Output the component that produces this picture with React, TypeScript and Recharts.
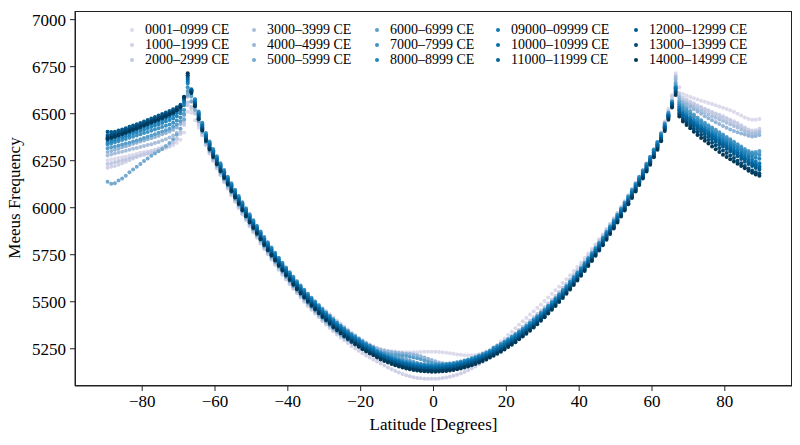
import { ScatterChart, Scatter, XAxis, YAxis } from 'recharts';

// latitude sample points (degrees), one per 1° band
const LATITUDES = [
  -89.5, -88.5, -87.5, -86.5, -85.5, -84.5, -83.5, -82.5, -81.5, -80.5, -79.5, -78.5, -77.5, -76.5, -75.5,
  -74.5, -73.5, -72.5, -71.5, -70.5, -69.5, -68.5, -67.5, -66.5, -65.5, -64.5, -63.5, -62.5, -61.5, -60.5,
  -59.5, -58.5, -57.5, -56.5, -55.5, -54.5, -53.5, -52.5, -51.5, -50.5, -49.5, -48.5, -47.5, -46.5, -45.5,
  -44.5, -43.5, -42.5, -41.5, -40.5, -39.5, -38.5, -37.5, -36.5, -35.5, -34.5, -33.5, -32.5, -31.5, -30.5,
  -29.5, -28.5, -27.5, -26.5, -25.5, -24.5, -23.5, -22.5, -21.5, -20.5, -19.5, -18.5, -17.5, -16.5, -15.5,
  -14.5, -13.5, -12.5, -11.5, -10.5, -9.5, -8.5, -7.5, -6.5, -5.5, -4.5, -3.5, -2.5, -1.5, -0.5,
  0.5, 1.5, 2.5, 3.5, 4.5, 5.5, 6.5, 7.5, 8.5, 9.5, 10.5, 11.5, 12.5, 13.5, 14.5,
  15.5, 16.5, 17.5, 18.5, 19.5, 20.5, 21.5, 22.5, 23.5, 24.5, 25.5, 26.5, 27.5, 28.5, 29.5,
  30.5, 31.5, 32.5, 33.5, 34.5, 35.5, 36.5, 37.5, 38.5, 39.5, 40.5, 41.5, 42.5, 43.5, 44.5,
  45.5, 46.5, 47.5, 48.5, 49.5, 50.5, 51.5, 52.5, 53.5, 54.5, 55.5, 56.5, 57.5, 58.5, 59.5,
  60.5, 61.5, 62.5, 63.5, 64.5, 65.5, 66.5, 67.5, 68.5, 69.5, 70.5, 71.5, 72.5, 73.5, 74.5,
  75.5, 76.5, 77.5, 78.5, 79.5, 80.5, 81.5, 82.5, 83.5, 84.5, 85.5, 86.5, 87.5, 88.5, 89.5,
];

const X_TICKS = [-80, -60, -40, -20, 0, 20, 40, 60, 80];
const Y_TICKS = [5250, 5500, 5750, 6000, 6250, 6500, 6750, 7000];

const SERIES_LABELS = [
  '0001–0999 CE', '1000–1999 CE', '2000–2999 CE',
  '3000–3999 CE', '4000–4999 CE', '5000–5999 CE',
  '6000–6999 CE', '7000–7999 CE', '8000–8999 CE',
  '09000–09999 CE', '10000–10999 CE', '11000–11999 CE',
  '12000–12999 CE', '13000–13999 CE', '14000–14999 CE',
];

const SERIES_COLORS = [
  '#dcdaeb', '#d0d1e6', '#c2c9e2', '#a9bfdc', '#93b5d7',
  '#75a9cf', '#5a9fc9', '#3f93c2', '#2786bb', '#1379b5',
  '#056fac', '#04649d', '#045a8d', '#034a77', '#023858',
];

// Meeus frequency per latitude, one array per millennium
const S01 = [
  6253, 6257, 6260, 6264, 6268, 6272, 6277, 6282, 6287, 6292, 6296, 6299, 6302, 6304, 6307, 6311, 6316, 6324, 6332, 6345, 6362, 6400,
  6510,
  6505, 6465, 6425, 6385, 6340, 6298, 6260, 6221, 6184, 6148, 6113, 6078, 6044, 6010, 5977, 5945, 5913, 5882, 5854, 5826,
  5798, 5772, 5746, 5722, 5698, 5675, 5652, 5630, 5609, 5588, 5569, 5551, 5533, 5516, 5500, 5484, 5467, 5451, 5434, 5417,
  5400, 5384, 5369, 5353, 5337, 5323, 5309, 5296, 5284, 5273, 5264,
  5256, 5249, 5244, 5240, 5237, 5235, 5233, 5232, 5231, 5231, 5231, 5232, 5233, 5234, 5234, 5234,
  5234, 5233, 5231, 5229, 5226, 5223, 5220, 5218, 5216, 5215, 5215, 5217, 5221, 5227, 5235, 5245,
  5258, 5272, 5288, 5305, 5323, 5341, 5359, 5378, 5396, 5414, 5432, 5450, 5468, 5486, 5504, 5523, 5542, 5561, 5580, 5600,
  5620, 5641, 5663, 5685, 5708, 5732, 5756, 5781, 5806, 5832, 5858, 5886, 5914, 5942, 5971, 6001, 6031, 6062, 6094, 6127,
  6161, 6196, 6232, 6269, 6308, 6350, 6400, 6460, 6525, 6600,
  6715,
  6640, 6605, 6597, 6589, 6582, 6575, 6569, 6563, 6557, 6551, 6545, 6538, 6532, 6525, 6518, 6510, 6500, 6490, 6480, 6472, 6468, 6468, 6472,
];
const S02 = [
  6212, 6218, 6222, 6228, 6236, 6244, 6253, 6262, 6270, 6279, 6287, 6294, 6301, 6308, 6315, 6321, 6330, 6340, 6352, 6368, 6392, 6440,
  6545,
  6525, 6500, 6440, 6385, 6332, 6288, 6248, 6209, 6172, 6136, 6101, 6066, 6032, 5998, 5965, 5933, 5901, 5870, 5840, 5810,
  5780, 5752, 5724, 5697, 5670, 5644, 5618, 5593, 5569, 5545, 5522, 5500, 5478, 5457, 5437, 5417, 5397, 5379, 5361, 5343,
  5326, 5310, 5295, 5280, 5265, 5252, 5239, 5226, 5214, 5203, 5193,
  5182, 5171, 5161, 5151, 5141, 5132, 5124, 5116, 5109, 5104, 5099, 5095, 5093, 5091, 5090, 5090,
  5091, 5092, 5094, 5097, 5101, 5106, 5112, 5119, 5127, 5136, 5146, 5156, 5167, 5179, 5191, 5204,
  5217, 5230, 5244, 5259, 5275, 5290, 5305, 5322, 5339, 5356, 5373, 5391, 5410, 5429, 5447, 5467, 5487, 5507, 5528, 5550,
  5572, 5595, 5619, 5643, 5668, 5694, 5720, 5747, 5774, 5802, 5830, 5860, 5890, 5920, 5951, 5983, 6015, 6048, 6082, 6116,
  6151, 6186, 6222, 6259, 6298, 6338, 6385, 6442, 6505, 6575,
  6690,
  6610, 6585, 6575, 6565, 6555, 6545, 6535, 6526, 6518, 6509, 6501, 6494, 6486, 6477, 6468, 6460, 6450, 6438, 6426, 6416, 6410, 6412, 6420,
];
const S03 = [
  6232, 6237, 6242, 6247, 6252, 6257, 6262, 6267, 6272, 6277, 6282, 6287, 6292, 6298, 6305, 6312, 6321, 6330, 6345, 6365, 6400, 6450,
  6560,
  6535, 6505, 6448, 6392, 6337, 6292, 6252, 6213, 6176, 6140, 6105, 6070, 6036, 6002, 5969, 5937, 5905, 5874, 5844, 5814,
  5784, 5756, 5728, 5701, 5674, 5648, 5622, 5597, 5573, 5549, 5526, 5504, 5482, 5461, 5441, 5421, 5402, 5385, 5368, 5351,
  5336, 5322, 5309, 5296, 5283, 5272, 5261, 5250, 5240, 5231, 5223,
  5214, 5205, 5197, 5189, 5181, 5174, 5168, 5162, 5157, 5153, 5149, 5146, 5144, 5142, 5141, 5140,
  5140, 5142, 5145, 5149, 5153, 5158, 5164, 5170, 5177, 5185, 5193, 5201, 5210, 5218, 5226, 5236,
  5249, 5261, 5274, 5288, 5303, 5318, 5333, 5350, 5367, 5384, 5400, 5417, 5435, 5453, 5471, 5491, 5511, 5531, 5552, 5574,
  5596, 5619, 5643, 5667, 5692, 5718, 5744, 5771, 5798, 5826, 5854, 5884, 5913, 5942, 5972, 6003, 6034, 6066, 6099, 6132,
  6166, 6200, 6235, 6271, 6309, 6349, 6395, 6452, 6515, 6590,
  6700,
  6600, 6575, 6566, 6557, 6548, 6540, 6531, 6522, 6514, 6505, 6496, 6487, 6478, 6469, 6461, 6452, 6443, 6432, 6420, 6407, 6398, 6400, 6408,
];
const S04 = [
  6278, 6283, 6288, 6293, 6298, 6303, 6308, 6313, 6318, 6323, 6328, 6333, 6338, 6344, 6350, 6357, 6364, 6373, 6384, 6398, 6420, 6465,
  6590,
  6565, 6530, 6472, 6416, 6361, 6316, 6276, 6237, 6200, 6164, 6129, 6094, 6060, 6026, 5993, 5961, 5929, 5898, 5868, 5838,
  5808, 5780, 5752, 5725, 5698, 5672, 5646, 5621, 5597, 5573, 5550, 5528, 5506, 5485, 5465, 5445, 5425, 5407, 5389, 5371,
  5354, 5338, 5323, 5308, 5294, 5282, 5270, 5258, 5247, 5237, 5228,
  5219, 5210, 5203, 5196, 5189, 5183, 5177, 5172, 5167, 5163, 5159, 5156, 5154, 5152, 5151, 5150,
  5150, 5152, 5154, 5157, 5160, 5164, 5169, 5174, 5180, 5187, 5194, 5202, 5211, 5220, 5229, 5240,
  5253, 5263, 5274, 5286, 5299, 5312, 5325, 5340, 5355, 5370, 5386, 5403, 5421, 5439, 5457, 5477, 5497, 5517, 5538, 5560,
  5582, 5605, 5629, 5653, 5678, 5704, 5730, 5757, 5784, 5812, 5840, 5870, 5900, 5930, 5961, 5993, 6025, 6058, 6092, 6126,
  6161, 6196, 6232, 6269, 6306, 6344, 6387, 6440, 6500, 6570,
  6695,
  6590, 6565, 6555, 6545, 6535, 6525, 6515, 6505, 6496, 6487, 6478, 6469, 6461, 6452, 6444, 6435, 6426, 6416, 6406, 6398, 6393, 6396, 6402,
];
const S05 = [
  6296, 6302, 6308, 6314, 6321, 6327, 6334, 6340, 6346, 6352, 6358, 6364, 6370, 6376, 6383, 6390, 6397, 6405, 6414, 6426, 6445, 6490,
  6610,
  6590, 6560, 6500, 6442, 6387, 6342, 6302, 6263, 6226, 6190, 6155, 6120, 6086, 6052, 6019, 5987, 5955, 5924, 5894, 5864,
  5834, 5806, 5778, 5751, 5724, 5698, 5672, 5647, 5623, 5599, 5576, 5554, 5532, 5511, 5491, 5471, 5451, 5433, 5415, 5397,
  5380, 5364, 5349, 5334, 5320, 5308, 5296, 5285, 5275, 5266, 5258,
  5251, 5245, 5240, 5236, 5233, 5230, 5228, 5226, 5224, 5222, 5219, 5215, 5210, 5204, 5197, 5190,
  5183, 5177, 5173, 5170, 5169, 5169, 5171, 5174, 5178, 5183, 5188, 5194, 5201, 5208, 5215, 5223,
  5230, 5239, 5249, 5260, 5273, 5286, 5299, 5314, 5329, 5344, 5360, 5377, 5395, 5413, 5431, 5451, 5471, 5491, 5512, 5534,
  5556, 5579, 5603, 5627, 5652, 5678, 5704, 5731, 5758, 5786, 5814, 5844, 5874, 5904, 5935, 5967, 5999, 6032, 6066, 6100,
  6135, 6170, 6206, 6243, 6282, 6322, 6367, 6422, 6485, 6550,
  6680,
  6585, 6560, 6549, 6536, 6524, 6511, 6499, 6487, 6476, 6465, 6455, 6445, 6435, 6425, 6416, 6408, 6401, 6395, 6389, 6383, 6379, 6381, 6387,
];
const S06 = [
  6138, 6128, 6130, 6145, 6156, 6170, 6188, 6203, 6218, 6233, 6248, 6262, 6276, 6288, 6300, 6312, 6327, 6344, 6364, 6388, 6420, 6470,
  6600,
  6565, 6520, 6460, 6402, 6347, 6302, 6262, 6223, 6186, 6150, 6115, 6080, 6046, 6012, 5979, 5947, 5915, 5884, 5854, 5824,
  5794, 5766, 5738, 5711, 5684, 5658, 5632, 5607, 5583, 5559, 5536, 5514, 5492, 5471, 5451, 5431, 5411, 5393, 5375, 5357,
  5340, 5324, 5310, 5296, 5283, 5272, 5262, 5252, 5244, 5237, 5231,
  5226, 5222, 5219, 5216, 5213, 5209, 5205, 5200, 5194, 5188, 5181, 5174, 5167, 5161, 5155, 5150,
  5146, 5143, 5141, 5141, 5142, 5145, 5149, 5154, 5160, 5167, 5174, 5182, 5191, 5200, 5209, 5220,
  5231, 5242, 5254, 5267, 5281, 5295, 5309, 5325, 5341, 5357, 5373, 5390, 5408, 5426, 5444, 5464, 5484, 5504, 5525, 5547,
  5569, 5592, 5616, 5640, 5665, 5691, 5717, 5744, 5771, 5799, 5827, 5857, 5887, 5917, 5948, 5980, 6012, 6045, 6079, 6113,
  6148, 6183, 6219, 6256, 6295, 6335, 6380, 6435, 6495, 6560,
  6665,
  6570, 6548, 6531, 6514, 6496, 6479, 6462, 6447, 6433, 6419, 6405, 6392, 6378, 6365, 6351, 6338, 6325, 6312, 6299, 6289, 6284, 6286, 6292,
];
const S07 = [
  6316, 6321, 6326, 6331, 6336, 6341, 6346, 6352, 6358, 6364, 6371, 6378, 6384, 6391, 6398, 6405, 6412, 6420, 6430, 6442, 6460, 6500,
  6620,
  6595, 6560, 6496, 6436, 6381, 6336, 6296, 6257, 6220, 6184, 6149, 6114, 6080, 6046, 6013, 5981, 5949, 5918, 5888, 5858,
  5828, 5800, 5772, 5745, 5718, 5692, 5666, 5641, 5617, 5593, 5570, 5548, 5526, 5505, 5485, 5465, 5445, 5427, 5409, 5391,
  5374, 5358, 5343, 5328, 5313, 5300, 5287, 5274, 5263, 5253, 5245,
  5238, 5232, 5227, 5223, 5220, 5218, 5216, 5214, 5211, 5208, 5204, 5199, 5194, 5188, 5182, 5176,
  5170, 5165, 5162, 5160, 5160, 5161, 5164, 5167, 5171, 5176, 5182, 5189, 5197, 5205, 5213, 5223,
  5233, 5243, 5254, 5266, 5279, 5292, 5305, 5320, 5335, 5350, 5366, 5383, 5401, 5419, 5437, 5457, 5477, 5497, 5518, 5540,
  5562, 5585, 5609, 5633, 5658, 5684, 5710, 5737, 5764, 5792, 5820, 5850, 5880, 5910, 5941, 5973, 6005, 6038, 6072, 6106,
  6141, 6176, 6212, 6249, 6288, 6328, 6373, 6428, 6488, 6553,
  6655,
  6560, 6538, 6522, 6507, 6493, 6479, 6465, 6452, 6439, 6426, 6414, 6401, 6389, 6376, 6364, 6351, 6338, 6325, 6312, 6301, 6295, 6296, 6302,
];
const S08 = [
  6336, 6342, 6348, 6354, 6360, 6366, 6372, 6378, 6384, 6391, 6397, 6403, 6409, 6416, 6422, 6429, 6436, 6443, 6452, 6464, 6480, 6520,
  6640,
  6615, 6577, 6512, 6452, 6397, 6352, 6312, 6273, 6236, 6200, 6165, 6130, 6096, 6062, 6029, 5997, 5965, 5934, 5904, 5874,
  5844, 5816, 5788, 5761, 5734, 5708, 5682, 5657, 5633, 5609, 5586, 5564, 5542, 5521, 5501, 5481, 5461, 5443, 5425, 5407,
  5390, 5374, 5359, 5344, 5329, 5316, 5303, 5290, 5278, 5267, 5257,
  5240, 5230, 5222, 5214, 5206, 5199, 5193, 5187, 5182, 5178, 5174, 5171, 5169, 5167, 5166, 5165,
  5165, 5166, 5167, 5169, 5171, 5174, 5178, 5182, 5187, 5193, 5199, 5206, 5214, 5222, 5230, 5240,
  5255, 5265, 5276, 5288, 5301, 5314, 5327, 5342, 5357, 5372, 5388, 5405, 5423, 5441, 5459, 5479, 5499, 5519, 5540, 5562,
  5584, 5607, 5631, 5655, 5680, 5706, 5732, 5759, 5786, 5814, 5842, 5872, 5902, 5932, 5963, 5995, 6027, 6060, 6094, 6128,
  6163, 6198, 6234, 6271, 6310, 6350, 6395, 6448, 6505, 6565,
  6645,
  6550, 6527, 6512, 6497, 6483, 6469, 6456, 6442, 6430, 6418, 6406, 6394, 6382, 6370, 6358, 6346, 6334, 6320, 6306, 6295, 6288, 6284, 6280,
];
const S09 = [
  6346, 6352, 6359, 6366, 6373, 6380, 6387, 6394, 6401, 6408, 6415, 6422, 6429, 6436, 6443, 6450, 6458, 6466, 6475, 6487, 6502, 6545,
  6660,
  6625, 6575, 6506, 6446, 6391, 6346, 6306, 6267, 6230, 6194, 6159, 6124, 6090, 6056, 6023, 5991, 5959, 5928, 5898, 5868,
  5838, 5810, 5782, 5755, 5728, 5702, 5676, 5651, 5627, 5603, 5580, 5558, 5536, 5515, 5495, 5475, 5455, 5437, 5419, 5401,
  5384, 5368, 5353, 5338, 5323, 5310, 5297, 5284, 5272, 5261, 5251,
  5235, 5225, 5217, 5209, 5201, 5194, 5188, 5182, 5177, 5173, 5169, 5166, 5164, 5162, 5161, 5160,
  5160, 5161, 5162, 5164, 5166, 5169, 5173, 5177, 5182, 5188, 5194, 5201, 5209, 5217, 5225, 5235,
  5249, 5259, 5270, 5282, 5295, 5308, 5321, 5336, 5351, 5366, 5382, 5399, 5417, 5435, 5453, 5473, 5493, 5513, 5534, 5556,
  5578, 5601, 5625, 5649, 5674, 5700, 5726, 5753, 5780, 5808, 5836, 5866, 5896, 5926, 5957, 5989, 6021, 6054, 6088, 6122,
  6157, 6192, 6228, 6265, 6304, 6344, 6388, 6440, 6497, 6560,
  6640,
  6540, 6514, 6498, 6483, 6468, 6454, 6441, 6428, 6416, 6404, 6392, 6380, 6368, 6356, 6344, 6332, 6320, 6307, 6294, 6282, 6273, 6266, 6260,
];
const S10 = [
  6360, 6367, 6373, 6380, 6387, 6394, 6401, 6408, 6416, 6423, 6430, 6437, 6445, 6452, 6460, 6468, 6476, 6484, 6493, 6504, 6518, 6558,
  6670,
  6625, 6568, 6500, 6440, 6385, 6340, 6300, 6261, 6224, 6188, 6153, 6118, 6084, 6050, 6017, 5985, 5953, 5922, 5892, 5862,
  5832, 5804, 5776, 5749, 5722, 5696, 5670, 5645, 5621, 5597, 5574, 5552, 5530, 5509, 5489, 5469, 5449, 5431, 5413, 5395,
  5378, 5362, 5347, 5332, 5317, 5304, 5291, 5278, 5266, 5255, 5245,
  5230, 5220, 5212, 5204, 5196, 5189, 5183, 5177, 5172, 5168, 5164, 5161, 5159, 5157, 5156, 5155,
  5155, 5156, 5157, 5159, 5161, 5164, 5168, 5172, 5177, 5183, 5189, 5196, 5204, 5212, 5220, 5230,
  5243, 5253, 5264, 5276, 5289, 5302, 5315, 5330, 5345, 5360, 5376, 5393, 5411, 5429, 5447, 5467, 5487, 5507, 5528, 5550,
  5572, 5595, 5619, 5643, 5668, 5694, 5720, 5747, 5774, 5802, 5830, 5860, 5890, 5920, 5951, 5983, 6015, 6048, 6082, 6116,
  6151, 6186, 6222, 6259, 6298, 6338, 6382, 6435, 6492, 6555,
  6635,
  6530, 6504, 6488, 6473, 6458, 6444, 6431, 6418, 6405, 6393, 6381, 6368, 6356, 6344, 6332, 6319, 6306, 6293, 6280, 6268, 6256, 6246, 6237,
];
const S11 = [
  6370, 6377, 6383, 6390, 6397, 6404, 6412, 6419, 6427, 6434, 6442, 6449, 6457, 6464, 6472, 6480, 6488, 6496, 6505, 6515, 6530, 6570,
  6680,
  6630, 6560, 6494, 6434, 6379, 6334, 6294, 6255, 6218, 6182, 6147, 6112, 6078, 6044, 6011, 5979, 5947, 5916, 5886, 5856,
  5826, 5798, 5770, 5743, 5716, 5690, 5664, 5639, 5615, 5591, 5568, 5546, 5524, 5503, 5483, 5463, 5443, 5425, 5407, 5389,
  5372, 5356, 5341, 5326, 5311, 5298, 5285, 5272, 5260, 5249, 5239,
  5225, 5215, 5207, 5199, 5191, 5184, 5178, 5172, 5167, 5163, 5159, 5156, 5154, 5152, 5151, 5150,
  5150, 5151, 5152, 5154, 5156, 5159, 5163, 5167, 5172, 5178, 5184, 5191, 5199, 5207, 5215, 5225,
  5237, 5247, 5258, 5270, 5283, 5296, 5309, 5324, 5339, 5354, 5370, 5387, 5405, 5423, 5441, 5461, 5481, 5501, 5522, 5544,
  5566, 5589, 5613, 5637, 5662, 5688, 5714, 5741, 5768, 5796, 5824, 5854, 5884, 5914, 5945, 5977, 6009, 6042, 6076, 6110,
  6145, 6180, 6216, 6253, 6292, 6332, 6376, 6430, 6488, 6550,
  6628,
  6522, 6497, 6481, 6466, 6451, 6437, 6423, 6410, 6397, 6384, 6371, 6358, 6346, 6333, 6320, 6307, 6294, 6280, 6267, 6254, 6242, 6231, 6222,
];
const S12 = [
  6386, 6391, 6396, 6402, 6408, 6414, 6421, 6428, 6435, 6442, 6449, 6457, 6464, 6472, 6480, 6488, 6496, 6504, 6514, 6525, 6540, 6580,
  6690,
  6625, 6555, 6488, 6428, 6373, 6328, 6288, 6249, 6212, 6176, 6141, 6106, 6072, 6038, 6005, 5973, 5941, 5910, 5880, 5850,
  5820, 5792, 5764, 5737, 5710, 5684, 5658, 5633, 5609, 5585, 5562, 5540, 5518, 5497, 5477, 5457, 5437, 5419, 5401, 5383,
  5366, 5350, 5335, 5320, 5305, 5292, 5279, 5266, 5254, 5243, 5233,
  5220, 5210, 5202, 5194, 5186, 5179, 5173, 5167, 5162, 5158, 5154, 5151, 5149, 5147, 5146, 5145,
  5145, 5146, 5147, 5149, 5151, 5154, 5158, 5162, 5167, 5173, 5179, 5186, 5194, 5202, 5210, 5220,
  5231, 5241, 5252, 5264, 5277, 5290, 5303, 5318, 5333, 5348, 5364, 5381, 5399, 5417, 5435, 5455, 5475, 5495, 5516, 5538,
  5560, 5583, 5607, 5631, 5656, 5682, 5708, 5735, 5762, 5790, 5818, 5848, 5878, 5908, 5939, 5971, 6003, 6036, 6070, 6104,
  6139, 6174, 6210, 6247, 6286, 6326, 6371, 6426, 6486, 6551,
  6620,
  6515, 6489, 6473, 6458, 6443, 6429, 6415, 6402, 6389, 6376, 6363, 6350, 6337, 6324, 6311, 6298, 6285, 6272, 6258, 6245, 6233, 6222, 6212,
];
const S13 = [
  6404, 6402, 6404, 6410, 6416, 6423, 6430, 6437, 6444, 6451, 6459, 6466, 6474, 6482, 6490, 6498, 6506, 6514, 6523, 6534, 6548, 6588,
  6700,
  6620, 6550, 6482, 6422, 6367, 6322, 6282, 6243, 6206, 6170, 6135, 6100, 6066, 6032, 5999, 5967, 5935, 5904, 5874, 5844,
  5814, 5786, 5758, 5731, 5704, 5678, 5652, 5627, 5603, 5579, 5556, 5534, 5512, 5491, 5471, 5451, 5431, 5413, 5395, 5377,
  5360, 5344, 5329, 5314, 5299, 5286, 5273, 5260, 5248, 5237, 5227,
  5215, 5205, 5197, 5189, 5181, 5174, 5168, 5162, 5157, 5153, 5149, 5146, 5144, 5142, 5141, 5140,
  5140, 5141, 5142, 5144, 5146, 5149, 5153, 5157, 5162, 5168, 5174, 5181, 5189, 5197, 5205, 5215,
  5225, 5235, 5246, 5258, 5271, 5284, 5297, 5312, 5327, 5342, 5358, 5375, 5393, 5411, 5429, 5449, 5469, 5489, 5510, 5532,
  5554, 5577, 5601, 5625, 5650, 5676, 5702, 5729, 5756, 5784, 5812, 5842, 5872, 5902, 5933, 5965, 5997, 6030, 6064, 6098,
  6133, 6168, 6204, 6241, 6280, 6320, 6365, 6420, 6480, 6545,
  6615,
  6505, 6479, 6463, 6448, 6433, 6419, 6405, 6391, 6378, 6364, 6351, 6338, 6325, 6312, 6299, 6286, 6273, 6259, 6245, 6233, 6222, 6211, 6202,
];
const S14 = [
  6376, 6382, 6388, 6395, 6402, 6409, 6416, 6423, 6431, 6438, 6446, 6454, 6462, 6470, 6478, 6486, 6494, 6503, 6512, 6524, 6540, 6585,
  6705,
  6615, 6545, 6476, 6416, 6361, 6316, 6276, 6237, 6200, 6164, 6129, 6094, 6060, 6026, 5993, 5961, 5929, 5898, 5868, 5838,
  5808, 5780, 5752, 5725, 5698, 5672, 5646, 5621, 5597, 5573, 5550, 5528, 5506, 5485, 5465, 5445, 5425, 5407, 5389, 5371,
  5354, 5338, 5323, 5308, 5293, 5280, 5267, 5254, 5242, 5231, 5221,
  5209, 5199, 5191, 5183, 5175, 5168, 5162, 5156, 5151, 5147, 5143, 5140, 5138, 5136, 5135, 5134,
  5134, 5135, 5136, 5138, 5140, 5143, 5147, 5151, 5156, 5162, 5168, 5175, 5183, 5191, 5199, 5209,
  5219, 5229, 5240, 5252, 5265, 5278, 5291, 5306, 5321, 5336, 5352, 5369, 5387, 5405, 5423, 5443, 5463, 5483, 5504, 5526,
  5548, 5571, 5595, 5619, 5644, 5670, 5696, 5723, 5750, 5778, 5806, 5836, 5866, 5896, 5927, 5959, 5991, 6024, 6058, 6092,
  6127, 6162, 6198, 6235, 6274, 6314, 6359, 6414, 6474, 6539,
  6610,
  6495, 6468, 6451, 6434, 6418, 6403, 6388, 6374, 6360, 6346, 6332, 6318, 6304, 6291, 6278, 6264, 6250, 6236, 6222, 6209, 6198, 6189, 6182,
];
const S15 = [
  6366, 6372, 6378, 6385, 6392, 6399, 6406, 6414, 6421, 6429, 6437, 6445, 6453, 6461, 6469, 6477, 6486, 6495, 6505, 6518, 6536, 6590,
  6715,
  6610, 6540, 6470, 6410, 6355, 6310, 6270, 6231, 6194, 6158, 6123, 6088, 6054, 6020, 5987, 5955, 5923, 5892, 5862, 5832,
  5802, 5774, 5746, 5719, 5692, 5666, 5640, 5615, 5591, 5567, 5544, 5522, 5500, 5479, 5459, 5439, 5419, 5401, 5383, 5365,
  5348, 5332, 5317, 5302, 5287, 5274, 5261, 5248, 5236, 5225, 5215,
  5203, 5193, 5185, 5177, 5169, 5162, 5156, 5150, 5145, 5141, 5137, 5134, 5132, 5130, 5129, 5128,
  5128, 5129, 5130, 5132, 5134, 5137, 5141, 5145, 5150, 5156, 5162, 5169, 5177, 5185, 5193, 5203,
  5213, 5223, 5234, 5246, 5259, 5272, 5285, 5300, 5315, 5330, 5346, 5363, 5381, 5399, 5417, 5437, 5457, 5477, 5498, 5520,
  5542, 5565, 5589, 5613, 5638, 5664, 5690, 5717, 5744, 5772, 5800, 5830, 5860, 5890, 5921, 5953, 5985, 6018, 6052, 6086,
  6121, 6156, 6192, 6229, 6268, 6308, 6353, 6408, 6468, 6533,
  6600,
  6485, 6458, 6440, 6422, 6404, 6387, 6371, 6356, 6341, 6326, 6311, 6296, 6282, 6270, 6258, 6246, 6234, 6222, 6210, 6197, 6186, 6177, 6170,
];

const SERIES_VALUES = [S01, S02, S03, S04, S05, S06, S07, S08, S09, S10, S11, S12, S13, S14, S15];

const FONT = '"Liberation Serif", "Times New Roman", serif';
const W = 800;
const H = 445;
const PLOT = { left: 75, top: 11, right: 792, bottom: 386 };
const LEGEND_COLS = [132, 254, 377, 498, 636];
const LEGEND_ROWS = [30, 45, 60];

const minus = (v: number) => String(v).replace('-', '\u2212');

export default function App() {
  const series = SERIES_VALUES.map((vals, i) => ({
    name: SERIES_LABELS[i],
    color: SERIES_COLORS[i],
    data: LATITUDES.map((lat, j) => ({ lat, v: vals[j] })),
  }));

  const tickStyle = { fontSize: 17, fill: '#000', fontFamily: FONT };

  return (
    <div style={{ position: 'absolute', left: 0, top: 0, width: W, height: H, background: '#fff', fontFamily: FONT }}>
      <ScatterChart
        width={W}
        height={H}
        margin={{ top: PLOT.top, right: W - PLOT.right, bottom: 0, left: 0 }}
      >
        <XAxis
          type="number"
          dataKey="lat"
          domain={[-98.45, 98.45]}
          ticks={X_TICKS}
          tickFormatter={minus}
          allowDataOverflow
          height={H - PLOT.bottom}
          tick={tickStyle}
          tickSize={5}
          tickMargin={4}
          stroke="#222"
        />
        <YAxis
          type="number"
          dataKey="v"
          domain={[5052, 7046]}
          ticks={Y_TICKS}
          allowDataOverflow
          width={PLOT.left}
          tick={tickStyle}
          tickSize={5}
          tickMargin={4}
          stroke="#222"
        />
        {series.map((s) => (
          <Scatter
            key={s.name}
            name={s.name}
            data={s.data}
            fill={s.color}
            isAnimationActive={false}
            shape={(p: any) => <circle cx={p.cx} cy={p.cy} r={2} fill={s.color} />}
          />
        ))}
      </ScatterChart>

      {/* frame */}
      <div
        style={{
          position: 'absolute',
          left: PLOT.left,
          top: PLOT.top,
          width: PLOT.right - PLOT.left,
          height: PLOT.bottom - PLOT.top,
          border: '1px solid #222',
          boxSizing: 'border-box',
          pointerEvents: 'none',
        }}
      />

      {/* legend */}
      {series.map((s, i) => {
        const col = Math.floor(i / 3);
        const row = i % 3;
        return (
          <div
            key={s.name}
            style={{
              position: 'absolute',
              left: LEGEND_COLS[col] - 2,
              top: LEGEND_ROWS[row] - 8,
              height: 16,
              display: 'flex',
              alignItems: 'center',
              whiteSpace: 'nowrap',
              fontSize: 14,
              lineHeight: '16px',
            }}
          >
            <span style={{ width: 4, height: 4, borderRadius: 2, background: s.color, marginRight: 11 }} />
            <span>{s.name}</span>
          </div>
        );
      })}

      {/* axis titles */}
      <div
        style={{
          position: 'absolute',
          left: 15,
          top: 198,
          transform: 'translate(-50%, -50%) rotate(-90deg)',
          fontSize: 17,
          whiteSpace: 'nowrap',
        }}
      >
        Meeus Frequency
      </div>
      <div
        style={{
          position: 'absolute',
          left: (PLOT.left + PLOT.right) / 2,
          top: 425,
          transform: 'translate(-50%, -50%)',
          fontSize: 17,
          whiteSpace: 'nowrap',
        }}
      >
        Latitude [Degrees]
      </div>
    </div>
  );
}
